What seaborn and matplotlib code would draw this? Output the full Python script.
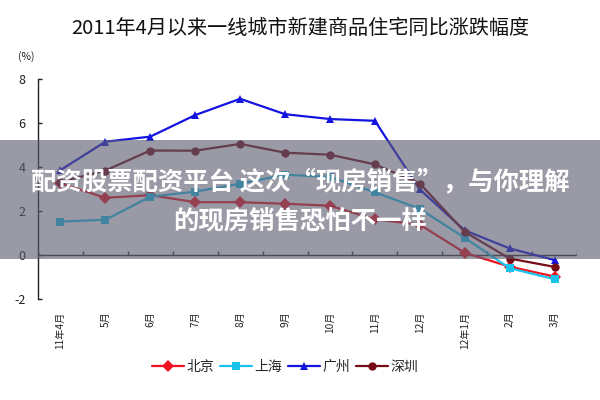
import numpy as np
import pandas as pd
import matplotlib
matplotlib.use("Agg")
import matplotlib.pyplot as plt
import seaborn as sns
from matplotlib.lines import Line2D

months = ["11年4月", "5月", "6月", "7月", "8月", "9月", "10月", "11月", "12月", "12年1月", "2月", "3月"]
cities = ["北京", "上海", "广州", "深圳"]
beijing = [3.26, 2.6, 2.72, 2.4, 2.4, 2.33, 2.24, 1.62, 1.38, 0.1, -0.53, -0.98]
shanghai = [1.52, 1.6, 2.65, 2.88, 3.24, 3.65, 3.55, 2.85, 2.1, 0.78, -0.6, -1.1]
guangzhou = [3.86, 5.15, 5.38, 6.36, 7.1, 6.4, 6.18, 6.1, 2.98, 1.12, 0.3, -0.23]
shenzhen = [3.32, 3.84, 4.75, 4.74, 5.05, 4.65, 4.56, 4.12, 3.25, 1.05, -0.16, -0.54]
title = "2011年4月以来一线城市新建商品住宅同比涨跌幅度"
banner_lines = ["配资股票配资平台 这次“现房销售”，与你理解", "的现房销售恐怕不一样"]

colors = {"北京": "#F01420", "上海": "#18C4EC", "广州": "#1414E0", "深圳": "#760C18"}
markers = {"北京": "D", "上海": "s", "广州": "^", "深圳": "o"}

sns.set_theme(style="white")
plt.rcParams['font.family'] = ['Noto Sans CJK SC', 'DejaVu Sans']

rows = []
for c, vals in zip(cities, [beijing, shanghai, guangzhou, shenzhen]):
    for i, v in enumerate(vals):
        rows.append({"idx": i, "city": c, "val": v})
df = pd.DataFrame(rows)

fig = plt.figure(figsize=(6, 4), dpi=100)
ax = fig.add_axes([38 / 600, 1 - 299 / 400, (577 - 38) / 600, 220 / 400])

sns.lineplot(data=df, x="idx", y="val", hue="city", style="city", hue_order=cities,
             style_order=cities, palette=colors, markers=markers, dashes=False,
             linewidth=1.6, markersize=6, markeredgewidth=0, ax=ax, legend=False, zorder=3)

ax.set_xlim(-0.5, len(months) - 0.5)
ax.set_ylim(-2, 8)
ax.set_yticks([-2, 0, 2, 4, 6, 8])
ax.set_yticklabels(["-2", "0", "2", "4", "6", "8"], fontsize=9, color="#222222")
ax.set_xticks(range(len(months)))
ax.set_xticklabels(months, rotation=90, fontsize=7.3, color="#222222")
ax.tick_params(axis="x", length=0, pad=9)
ax.tick_params(axis="y", direction="in", length=3, width=1, color="#222222", pad=9, left=True)
ax.set_xlabel("")
ax.set_ylabel("")
for s in ["top", "right", "bottom"]:
    ax.spines[s].set_visible(False)
ax.spines["left"].set_color("#222222")
ax.spines["left"].set_linewidth(1)

# zero axis line with category boundary ticks
ax.axhline(0, color="#333333", lw=1, zorder=2)
ax.vlines(np.arange(-0.5, len(months)), 0, 0.18, color="#333333", lw=1, zorder=2)

fig.text(18 / 600, 1 - 57 / 400, "(%)", ha="left", va="center", fontsize=7.5, color="#222222")

fig.text(0.5, 1 - 28 / 400, title, ha="center", va="center", fontsize=14.5, color="#111111")

# legend
handles = [Line2D([0], [0], color=colors[c], marker=markers[c], lw=1.6, markersize=6,
                  markeredgewidth=0) for c in cities]
fig.legend(handles, cities, loc="center", bbox_to_anchor=(0.475, 0.083), ncol=4,
           frameon=False, fontsize=10, handlelength=2.3, handletextpad=0.15,
           columnspacing=0.45)

# grey overlay banner with text
banner = plt.Rectangle((0, 1 - 259 / 400), 1, 119 / 400, transform=fig.transFigure,
                       facecolor="#5c5c70", alpha=0.62, zorder=10, edgecolor="none")
fig.add_artist(banner)
fig.text(0.5, 1 - 182 / 400, banner_lines[0], ha="center", va="center", fontsize=18.3,
         fontweight="bold", color="white", zorder=11)
fig.text(0.5, 1 - 221 / 400, banner_lines[1], ha="center", va="center", fontsize=18.3,
         fontweight="bold", color="white", zorder=11)

fig.savefig("out.png", dpi=100)
